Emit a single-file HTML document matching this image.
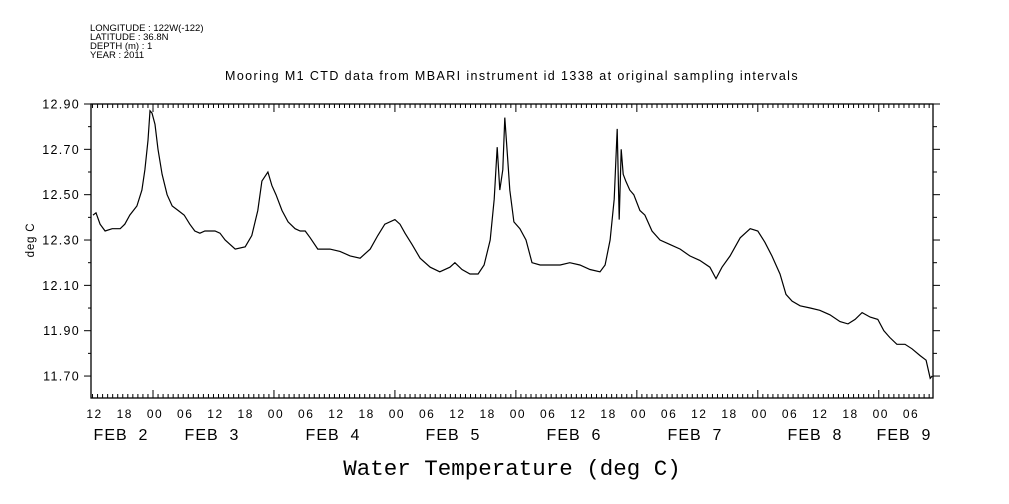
<!DOCTYPE html>
<html><head><meta charset="utf-8"><style>
body{margin:0;background:#fff}
svg{display:block}
text{font-family:"Liberation Sans",sans-serif;fill:#000}
</style></head><body>
<svg id="chart" width="1009" height="504" viewBox="0 0 1009 504" xmlns="http://www.w3.org/2000/svg">
<g font-size="9.5">
<text x="90" y="31">LONGITUDE : 122W(-122)</text>
<text x="90" y="40">LATITUDE : 36.8N</text>
<text x="90" y="49">DEPTH (m) : 1</text>
<text x="90" y="58">YEAR : 2011</text>
</g>
<text x="512" y="80" font-size="12.5" letter-spacing="1.4" text-anchor="middle">Mooring M1 CTD data from MBARI instrument id 1338 at original sampling intervals</text>
<text transform="translate(34,240) rotate(-90)" font-size="11.5" letter-spacing="0.8" text-anchor="middle">deg C</text>
<text x="512" y="475" font-size="22.5" text-anchor="middle" style="font-family:'Liberation Mono',monospace">Water Temperature (deg C)</text>
<rect x="91" y="104" width="842" height="294" fill="none" stroke="#000" stroke-width="1.3"/>
<g id="axes"></g>
<path id="line" fill="none" stroke="#000" stroke-width="1.2"/>
</svg>
<script>
const hours=[-11.9,-11.3,-10.5,-9.5,-8.1,-6.5,-5.6,-4.6,-3.2,-2.2,-1.6,-1.0,-0.6,-0.2,0.4,1.0,1.8,2.8,3.8,5.0,6.2,7.3,8.3,9.3,10.3,11.3,12.3,13.3,14.3,16.3,18.3,19.6,20.8,21.6,22.8,23.6,24.4,25.6,26.8,28.2,29.2,30.2,31.2,32.7,35.1,37.1,39.1,41.1,43.1,44.6,46.0,48.0,49.0,50.0,51.4,53.0,55.0,56.9,58.9,59.9,61.3,62.9,64.5,65.7,66.9,67.7,68.3,68.8,69.4,69.8,70.4,70.8,71.6,72.8,74.0,75.2,76.8,78.8,80.8,82.7,84.7,86.7,88.7,89.7,90.7,91.5,92.1,92.5,92.9,93.3,93.8,94.6,95.4,96.6,97.6,99.0,100.6,102.6,104.6,106.5,108.5,110.5,111.7,112.9,114.5,116.5,118.5,120.0,121.4,122.8,124.4,125.6,126.8,128.4,130.4,132.3,134.3,136.3,137.9,139.3,140.7,142.3,143.8,145.0,146.2,147.6,149.2,150.6,152.2,153.4,154.2,154.6];
const temps=[12.41,12.42,12.37,12.34,12.35,12.35,12.37,12.41,12.45,12.52,12.61,12.74,12.87,12.86,12.81,12.70,12.59,12.50,12.45,12.43,12.41,12.37,12.34,12.33,12.34,12.34,12.34,12.33,12.30,12.26,12.27,12.32,12.43,12.56,12.60,12.54,12.50,12.43,12.38,12.35,12.34,12.34,12.31,12.26,12.26,12.25,12.23,12.22,12.26,12.32,12.37,12.39,12.37,12.33,12.28,12.22,12.18,12.16,12.18,12.20,12.17,12.15,12.15,12.19,12.30,12.48,12.71,12.52,12.61,12.84,12.65,12.52,12.38,12.35,12.30,12.20,12.19,12.19,12.19,12.20,12.19,12.17,12.16,12.19,12.30,12.48,12.79,12.39,12.70,12.59,12.56,12.52,12.50,12.43,12.41,12.34,12.30,12.28,12.26,12.23,12.21,12.18,12.13,12.18,12.23,12.31,12.35,12.34,12.29,12.23,12.15,12.06,12.03,12.01,12.00,11.99,11.97,11.94,11.93,11.95,11.98,11.96,11.95,11.90,11.87,11.84,11.84,11.82,11.79,11.77,11.69,11.70];
const yTicks=["12.90","12.70","12.50","12.30","12.10","11.90","11.70"];
const hourLabels=["12","18","00","06","12","18","00","06","12","18","00","06","12","18","00","06","12","18","00","06","12","18","00","06","12","18","00","06"];
const dateLabels=["FEB  2","FEB  3","FEB  4","FEB  5","FEB  6","FEB  7","FEB  8","FEB  9"];
const dateX=[121,212,333,453,574,695,815,904];
const X=h=>153+h*5.04;
const Y=v=>104+(12.9-v)*226.7;
const NS="http://www.w3.org/2000/svg";
const g=document.getElementById('axes');
function line(x1,y1,x2,y2,name){const l=document.createElementNS(NS,'line');l.setAttribute('x1',x1);l.setAttribute('y1',y1);l.setAttribute('x2',x2);l.setAttribute('y2',y2);l.setAttribute('stroke','#000');


g.appendChild(l);}
function text(x,y,s,size,anchor,name,ls){const t=document.createElementNS(NS,'text');t.setAttribute('x',x);t.setAttribute('y',y);t.setAttribute('font-size',size);t.setAttribute('text-anchor',anchor);t.setAttribute('letter-spacing',ls);t.textContent=s;


g.appendChild(t);}
for(let h=-12;h<=155;h++){const x=X(h);if(x<91||x>933)continue;const major=((h%24)+24)%24===0;const len=major?8:4;
line(x,398,x,398-len,'x-tick');line(x,104,x,104+len,'x-tick-top');}
for(let i=0;i<=12;i++){const v=12.9-i*0.1;const y=Y(v);const lab=i%2===0;
line(lab?84:88,y,91,y,'y-tick');line(933,y,lab?940:937,y,'y-tick-right');}
yTicks.forEach(s=>text(80,Y(parseFloat(s))+4.5,s,12.5,'end','y-tick-label',1.3));
hourLabels.forEach((s,i)=>{const x=X(-12+i*6);if(x>=88&&x<=935)text(x+2,418,s,12,'middle','x-hour-label',1.5);});
dateLabels.forEach((s,i)=>{const t=document.createElementNS(NS,'text');t.setAttribute('x',dateX[i]);t.setAttribute('y',440);t.setAttribute('font-size',16);t.setAttribute('letter-spacing',1);t.setAttribute('text-anchor','middle');t.setAttribute('xml:space','preserve');t.style.whiteSpace='pre';t.textContent=s;


g.appendChild(t);});
document.getElementById('line').setAttribute('d',hours.map((h,i)=>(i?'L':'M')+X(h).toFixed(1)+','+Y(temps[i]).toFixed(1)).join(''));
</script>
</body></html>
